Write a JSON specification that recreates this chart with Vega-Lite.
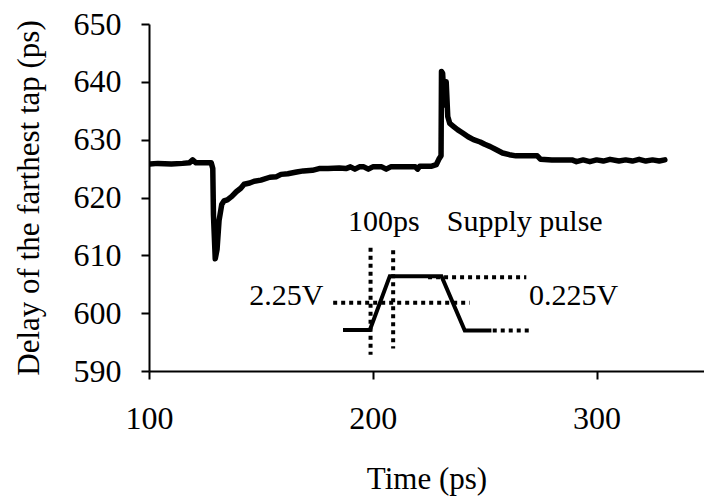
{
  "$schema": "https://vega.github.io/schema/vega-lite/v6.json",
  "width": 555,
  "height": 347,
  "autosize": "none",
  "padding": {"left": 149, "top": 24, "right": 0, "bottom": 125},
  "background": "white",
  "config": {
    "view": {"stroke": null},
    "font": "Liberation Serif",
    "axis": {
      "grid": false,
      "domainColor": "black",
      "domainWidth": 2,
      "tickColor": "black",
      "tickWidth": 2,
      "tickSize": 8,
      "labelFont": "Liberation Serif",
      "titleFont": "Liberation Serif",
      "labelColor": "black",
      "titleColor": "black",
      "titleFontWeight": "normal",
      "labelFontSize": 32,
      "titleFontSize": 31,
      "labelFlush": false,
      "labelOverlap": false
    }
  },
  "datasets": {
    "curve": [
      {"t": 100.4, "d": 625.8}, {"t": 104, "d": 625.9}, {"t": 110, "d": 625.8}, {"t": 115, "d": 625.9},
      {"t": 118, "d": 626.0}, {"t": 119.5, "d": 626.5}, {"t": 121, "d": 626.0}, {"t": 127.8, "d": 626.0},
      {"t": 128.5, "d": 625.0}, {"t": 128.8, "d": 617}, {"t": 129.6, "d": 609.4}, {"t": 130.4, "d": 611},
      {"t": 131.3, "d": 616}, {"t": 132.5, "d": 618.8}, {"t": 133.5, "d": 619.4}, {"t": 135, "d": 619.6},
      {"t": 137, "d": 620.2}, {"t": 139, "d": 621.0}, {"t": 141, "d": 621.6}, {"t": 142.5, "d": 622.3},
      {"t": 145, "d": 622.5}, {"t": 147, "d": 622.8}, {"t": 150, "d": 623.0}, {"t": 154, "d": 623.5},
      {"t": 157, "d": 623.6}, {"t": 159, "d": 624.0}, {"t": 162, "d": 624.1}, {"t": 166, "d": 624.4},
      {"t": 169, "d": 624.6}, {"t": 173, "d": 624.7}, {"t": 176, "d": 625.0}, {"t": 180, "d": 625.0},
      {"t": 185, "d": 625.1}, {"t": 188, "d": 625.0}, {"t": 190, "d": 625.3}, {"t": 192, "d": 624.9},
      {"t": 194, "d": 625.3}, {"t": 196, "d": 625.3}, {"t": 198, "d": 624.9}, {"t": 200, "d": 625.3},
      {"t": 204, "d": 625.3}, {"t": 206, "d": 624.9}, {"t": 208, "d": 625.3}, {"t": 215, "d": 625.3},
      {"t": 219, "d": 625.3}, {"t": 220, "d": 624.9}, {"t": 221, "d": 625.4}, {"t": 226, "d": 625.4},
      {"t": 228.4, "d": 625.7}, {"t": 229.5, "d": 626.6}, {"t": 230.5, "d": 627.2}, {"t": 230.7, "d": 641.8},
      {"t": 231.2, "d": 641.5}, {"t": 232, "d": 636}, {"t": 232.8, "d": 640}, {"t": 233.5, "d": 634},
      {"t": 234.4, "d": 632.8}, {"t": 236, "d": 632.3}, {"t": 238, "d": 631.7}, {"t": 240, "d": 631.2},
      {"t": 242.6, "d": 630.5}, {"t": 245, "d": 630.0}, {"t": 248, "d": 629.6}, {"t": 250, "d": 629.2},
      {"t": 252.5, "d": 628.8}, {"t": 255, "d": 628.3}, {"t": 258, "d": 627.7}, {"t": 261, "d": 627.4},
      {"t": 264, "d": 627.2}, {"t": 270, "d": 627.2}, {"t": 273.5, "d": 627.2}, {"t": 275, "d": 626.6},
      {"t": 280, "d": 626.5}, {"t": 289, "d": 626.5}, {"t": 291, "d": 626.2}, {"t": 294, "d": 626.5},
      {"t": 297, "d": 626.2}, {"t": 300, "d": 626.5}, {"t": 303, "d": 626.3}, {"t": 306, "d": 626.6},
      {"t": 310, "d": 626.3}, {"t": 313, "d": 626.5}, {"t": 316, "d": 626.3}, {"t": 319, "d": 626.6},
      {"t": 322, "d": 626.3}, {"t": 325, "d": 626.5}, {"t": 328, "d": 626.3}, {"t": 330.5, "d": 626.5}
    ],
    "pulse": [
      {"t": 186.7, "d": 597.1}, {"t": 198.7, "d": 597.1}, {"t": 207.6, "d": 606.4},
      {"t": 230.7, "d": 606.4}, {"t": 241.1, "d": 597.0}, {"t": 253, "d": 597.0}
    ],
    "dots": [
      {"seg": "v1", "i": 0, "t": 199, "d": 611.3}, {"seg": "v1", "i": 1, "t": 199, "d": 592.8},
      {"seg": "v2", "i": 0, "t": 209.1, "d": 610.9}, {"seg": "v2", "i": 1, "t": 209.1, "d": 593.9},
      {"seg": "h1", "i": 0, "t": 182.3, "d": 601.8}, {"seg": "h1", "i": 1, "t": 243.3, "d": 601.8},
      {"seg": "h2", "i": 0, "t": 224.7, "d": 606.2}, {"seg": "h2", "i": 1, "t": 268.6, "d": 606.2},
      {"seg": "h3", "i": 0, "t": 253.6, "d": 597.0}, {"seg": "h3", "i": 1, "t": 270, "d": 597.0}
    ],
    "labels": [
      {"label": "100ps", "t": 204.9, "d": 615.7},
      {"label": "Supply pulse", "t": 267.9, "d": 615.8},
      {"label": "2.25V", "t": 161.4, "d": 603.0},
      {"label": "0.225V", "t": 289.7, "d": 603.0}
    ]
  },
  "encoding": {
    "x": {
      "field": "t", "type": "quantitative",
      "scale": {"domain": [100, 348], "nice": false, "zero": false},
      "axis": {"title": "Time (ps)", "values": [100, 200, 300], "labelPadding": 24, "titlePadding": 30}
    },
    "y": {
      "field": "d", "type": "quantitative",
      "scale": {"domain": [590, 650], "nice": false, "zero": false},
      "axis": {"title": "Delay of the farthest tap (ps)", "values": [590, 600, 610, 620, 630, 640, 650], "labelPadding": 20, "titlePadding": 28}
    }
  },
  "layer": [
    {
      "data": {"name": "dots"},
      "mark": {"type": "line", "color": "black", "strokeWidth": 4, "strokeDash": [4, 4], "clip": true},
      "encoding": {"detail": {"field": "seg"}, "order": {"field": "i"}}
    },
    {
      "data": {"name": "pulse"},
      "mark": {"type": "line", "color": "black", "strokeWidth": 4, "clip": true}
    },
    {
      "data": {"name": "curve"},
      "mark": {"type": "line", "color": "black", "strokeWidth": 5.5, "strokeJoin": "round", "strokeCap": "round", "clip": true}
    },
    {
      "data": {"name": "labels"},
      "mark": {"type": "text", "fontSize": 30, "font": "Liberation Serif", "color": "black", "align": "center", "baseline": "middle"},
      "encoding": {"text": {"field": "label"}}
    }
  ]
}
